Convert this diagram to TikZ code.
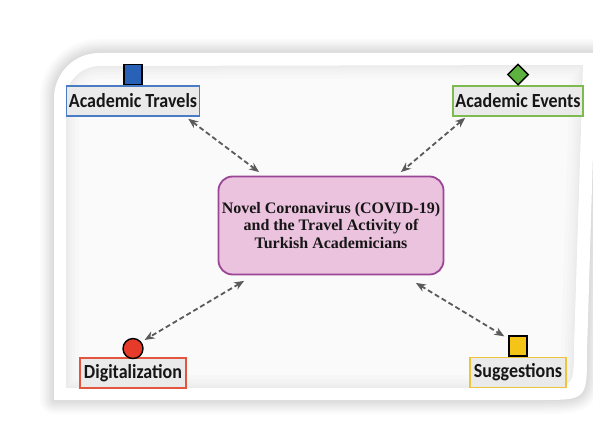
\documentclass[tikz,border=0pt]{standalone}
\usepackage{fontspec}
\setmainfont{Liberation Serif}
\newfontfamily\labelfont[FakeStretch=0.9]{Carlito}
\usetikzlibrary{calc,arrows.meta,shapes.geometric}

\definecolor{inktext}{HTML}{161616}
\definecolor{panelgray}{HTML}{FAFAFA}
\definecolor{boxgray}{HTML}{EAEAEA}
\definecolor{pinkfill}{HTML}{EBC3DE}
\definecolor{purpleedge}{HTML}{9A4596}
\definecolor{blueedge}{HTML}{4A7CC4}
\definecolor{bluefill}{HTML}{2862B6}
\definecolor{greenedge}{HTML}{7DBA4F}
\definecolor{greenfill}{HTML}{5DB13E}
\definecolor{rededge}{HTML}{E2553E}
\definecolor{redfill}{HTML}{E63A2A}
\definecolor{yellowedge}{HTML}{EEC53A}
\definecolor{yellowfill}{HTML}{F4C516}
\definecolor{linkgray}{HTML}{5A5A5A}

\tikzset{
  topicbox/.style={draw, line width=1.5pt, fill=boxgray, inner sep=0pt,
    minimum height=30pt, text=inktext,
    font=\labelfont\bfseries\fontsize{20}{22}\selectfont},
  hubbox/.style={draw=purpleedge, line width=1.8pt, fill=pinkfill,
    rounded corners=14pt, minimum width=225pt, minimum height=98pt,
    inner sep=0pt, align=center, text=inktext,
    font=\bfseries\fontsize{16}{17.5}\selectfont},
  sqmarker/.style={draw=black, line width=1.4pt, rectangle, inner sep=0pt,
    minimum width=18pt, minimum height=20pt, anchor=south},
  dmmarker/.style={draw=black, line width=1.4pt, diamond, inner sep=0pt,
    minimum width=21pt, minimum height=21pt, anchor=south},
  ccmarker/.style={draw=black, line width=1.4pt, circle, inner sep=0pt,
    minimum size=20pt, anchor=south},
  link/.style={draw=linkgray, line width=1.8pt, dash pattern=on 5pt off 3pt,
    {Stealth[length=10pt,width=8pt]}-{Stealth[length=10pt,width=8pt]}},
}

% outer frame: rounded at top-left and bottom-right only
\def\framepath{(54,400) -- (54,98) arc[start angle=180,end angle=270,radius=45]
  -- (596,53) -- (587,352) .. controls (587,400) .. (539,400) -- cycle}
\def\panelpath{(66,388) -- (66,100) arc[start angle=180,end angle=270,radius=34]
  -- (583,65) -- (574,346) .. controls (574,388) .. (532,388) -- cycle}

\begin{document}
\begin{tikzpicture}[x=1pt,y=-1pt]
  \useasboundingbox (0,0) rectangle (593,430);
  \fill[white] (0,0) rectangle (593,430);

  % soft shadow around the frame
  \foreach \w in {2,5,8,11,14,17,20,24,28} {
    \draw[black, opacity=0.016, line width=\w pt, line join=round] \framepath;
  }
  \fill[white] \framepath;

  % inner panel with slightly darker edges
  \fill[panelgray] \panelpath;
  \begin{scope}
    \clip \panelpath;
    \foreach \w in {3,7,12,18,26} {
      \draw[black, opacity=0.01, line width=\w pt] \panelpath;
    }
  \end{scope}

  % central topic
  \node[hubbox] (hub) at (331,225.5)
    {Novel Coronavirus (COVID-19)\\and the Travel Activity of\\Turkish Academicians};

  % surrounding topics
  \node[topicbox, draw=blueedge, minimum width=133pt] (travel) at (133,101) {Academic Travels};
  \node[topicbox, draw=greenedge, minimum width=130pt] (events) at (518,101) {Academic Events};
  \node[topicbox, draw=rededge, minimum width=106pt] (digital) at (133,373) {Digitalization};
  \node[topicbox, draw=yellowedge, minimum width=96pt] (sugg) at (518,372.5) {Suggestions};

  % markers on top of the topic boxes
  \node[sqmarker, fill=bluefill] (travelmark) at (travel.north) {};
  \node[dmmarker, fill=greenfill] (eventsmark) at ([yshift=-0.5pt]events.north) {};
  \node[ccmarker, fill=redfill] (digitalmark) at ([yshift=-2pt]digital.north) {};
  \node[sqmarker, fill=yellowfill] (suggmark) at (sugg.north) {};

  % connectors
  \draw[link] ($(travel.south east)+(-12,2)$) -- ($(hub.north west)+(41.5,-3.5)$);
  \draw[link] ($(events.south west)+(13,1)$) -- ($(hub.north east)+(-43.5,-3.5)$);
  \draw[link] ($(hub.south west)+(26.5,5.5)$) -- ($(digitalmark.north east)+(4,-1)$);
  \draw[link] ($(hub.south east)+(-28.5,7.5)$) -- ($(suggmark.north west)+(-4,1)$);
\end{tikzpicture}
\end{document}
